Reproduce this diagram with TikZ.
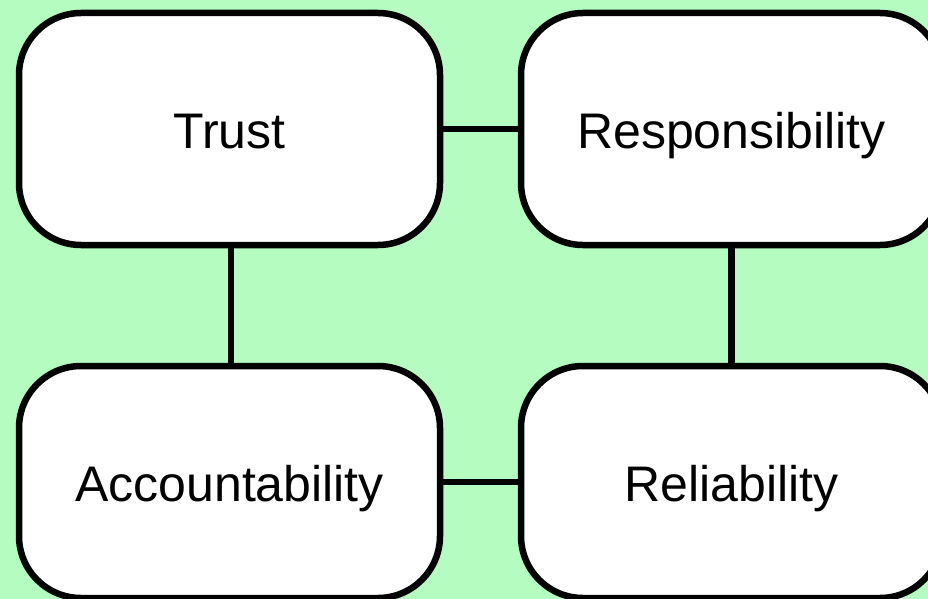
\documentclass[tikz,border=0pt]{standalone}
\usepackage{fontspec}
\setmainfont{Liberation Sans}
\usepackage{xcolor}
\definecolor{MintBg}{HTML}{B5FCC1}
\usetikzlibrary{positioning}

\tikzset{
    valuebox/.style={draw=black, fill=white, line width=6.5pt, rounded corners=62pt,
        minimum width=421pt, minimum height=232pt, inner sep=0pt,
        text height=38pt, text depth=0pt,
        font=\fontsize{50}{60}\selectfont},
    link/.style={draw=black, line width=6.5pt}
}

\begin{document}
\begin{tikzpicture}[x=1pt, y=-1pt]
    % canvas
    \fill[MintBg] (0,0) rectangle (928,599);
    \useasboundingbox (0,0) rectangle (928,599);

    % the four values
    \node[valuebox] (trust) at (229.5,129) {Trust};
    \node[valuebox] (resp)  at (731.5,129) {Responsibility};
    \node[valuebox] (acct)  at (229.5,482) {Accountability};
    \node[valuebox] (reli)  at (731.5,482) {Reliability};

    % links between them
    \draw[link] (trust) -- (resp);
    \draw[link] (acct) -- (reli);
    \draw[link] ([xshift=1.5pt]trust.south) -- ([xshift=1.5pt]acct.north);
    \draw[link] (resp.south) -- (reli.north);
\end{tikzpicture}
\end{document}
